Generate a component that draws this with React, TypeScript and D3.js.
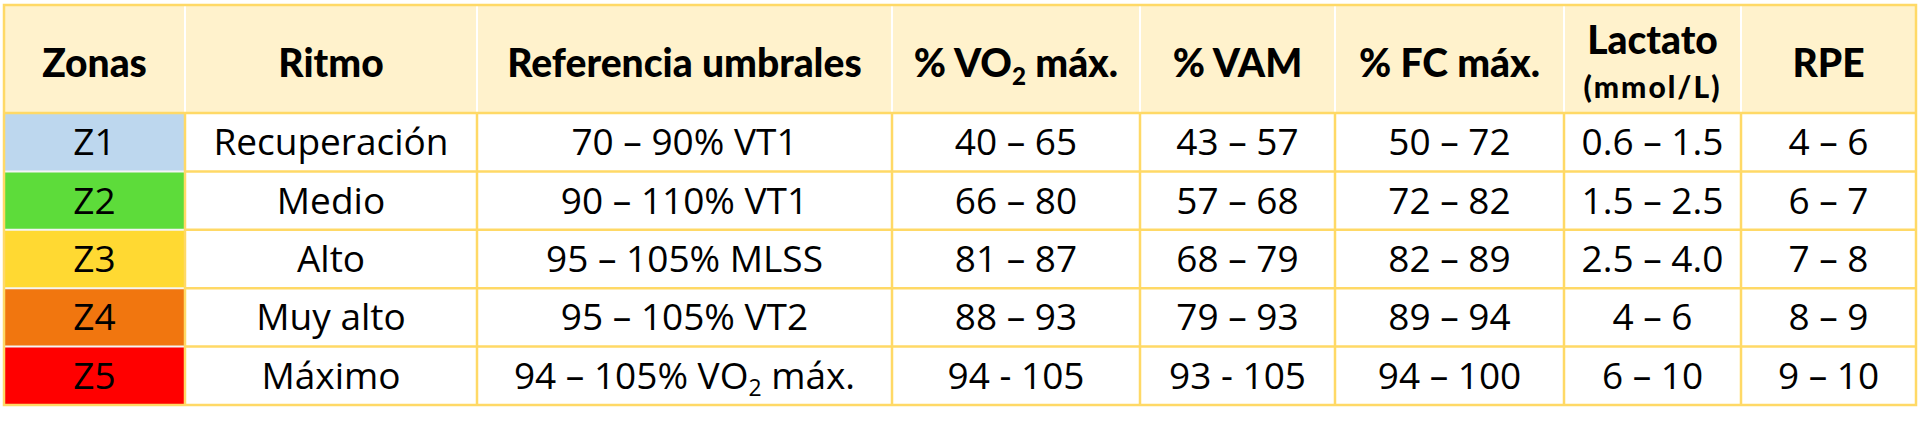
import { useEffect, useRef } from "react";
import * as d3 from "d3";

// table content
const headers = ["Zonas", "Ritmo", "Referencia umbrales", "% VO2 máx.", "% VAM", "% FC máx.", "Lactato", "RPE"];
const zones = ["Z1", "Z2", "Z3", "Z4", "Z5"];
const ritmo = ["Recuperación", "Medio", "Alto", "Muy alto", "Máximo"];
const umbrales = ["70 – 90% VT1", "90 – 110% VT1", "95 – 105% MLSS", "95 – 105% VT2", "94 – 105% VO2 máx."];
const vo2 = ["40 – 65", "66 – 80", "81 – 87", "88 – 93", "94 - 105"];
const vam = ["43 – 57", "57 – 68", "68 – 79", "79 – 93", "93 - 105"];
const fc = ["50 – 72", "72 – 82", "82 – 89", "89 – 94", "94 – 100"];
const lactato = ["0.6 – 1.5", "1.5 – 2.5", "2.5 – 4.0", "4 – 6", "6 – 10"];
const rpe = ["4 – 6", "6 – 7", "7 – 8", "8 – 9", "9 – 10"];
const lactatoUnit = "(mmol/L)";
const zoneColors = ["#bdd7ee", "#5ddc3a", "#ffd932", "#f1760f", "#ff0000"];

const W = 1920;
const H = 425;
const colWidths = [181, 292, 415, 248, 195, 229, 177, 175];
const left = 4;
const top = 5;
const headerH = 108;
const bottom = 405;
const border = "#ffd966";
const headBg = "#fff2cc";

// writes a string into a text node, putting the "2" of VO2 as subscript
function writeText(sel: d3.Selection<SVGTextElement, unknown, null, undefined>, s: string, size: number) {
    const parts = s.split("VO2");
    parts.forEach((p, i) => {
        if (i > 0) {
            sel.append("tspan").text("VO");
            sel.append("tspan").text("2").attr("font-size", size * 0.62).attr("dy", size * 0.2);
            sel.append("tspan").text(p).attr("dy", -size * 0.2);
        } else if (p) {
            sel.append("tspan").text(p);
        }
    });
}

export default function App() {
    const svgRef = useRef<SVGSVGElement>(null);

    useEffect(() => {
        const svg = d3.select(svgRef.current);
        svg.selectAll("*").remove();

        const edges = [left];
        colWidths.forEach(w => edges.push(edges[edges.length - 1] + w));
        const right = edges[edges.length - 1];

        const y = d3.scaleBand<string>().domain(zones).range([top + headerH, bottom]);
        const columns = [zones, ritmo, umbrales, vo2, vam, fc, lactato, rpe];

        // header
        svg.append("rect").attr("x", left).attr("y", top).attr("width", right - left).attr("height", headerH)
            .attr("fill", headBg);
        svg.append("rect").attr("x", left).attr("y", top + headerH).attr("width", right - left)
            .attr("height", bottom - top - headerH).attr("fill", "#fff");

        // zone colour cells
        svg.selectAll("rect.zone").data(zones).join("rect")
            .attr("class", "zone")
            .attr("x", left)
            .attr("y", d => y(d)!)
            .attr("width", colWidths[0])
            .attr("height", y.bandwidth())
            .attr("fill", (_, i) => zoneColors[i]);

        // white separators between zone cells
        zones.slice(1).forEach(z => {
            svg.append("line").attr("x1", left).attr("x2", edges[1]).attr("y1", y(z)!).attr("y2", y(z)!)
                .attr("stroke", "#f4f4f4").attr("stroke-width", 2);
        });

        // body grid lines
        zones.slice(1).forEach(z => {
            svg.append("line").attr("x1", edges[1]).attr("x2", right).attr("y1", y(z)!).attr("y2", y(z)!)
                .attr("stroke", border).attr("stroke-width", 2.5);
        });
        edges.slice(1, -1).forEach(x => {
            svg.append("line").attr("x1", x).attr("x2", x).attr("y1", top).attr("y2", top + headerH)
                .attr("stroke", "#fff").attr("stroke-width", 2);
            svg.append("line").attr("x1", x).attr("x2", x).attr("y1", top + headerH).attr("y2", bottom)
                .attr("stroke", border).attr("stroke-width", 2.5);
        });
        svg.append("line").attr("x1", left).attr("x2", right).attr("y1", top + headerH).attr("y2", top + headerH)
            .attr("stroke", border).attr("stroke-width", 2.5);
        svg.append("rect").attr("x", left).attr("y", top).attr("width", right - left).attr("height", bottom - top)
            .attr("fill", "none").attr("stroke", border).attr("stroke-width", 2.5);

        // header text
        const hSize = 39;
        headers.forEach((h, i) => {
            const cx = (edges[i] + edges[i + 1]) / 2;
            const isLact = h === "Lactato";
            const t = svg.append("text")
                .attr("x", cx)
                .attr("y", isLact ? 54 : 77)
                .attr("text-anchor", "middle")
                .attr("font-family", "Lato, sans-serif")
                .attr("font-weight", 900)
                .attr("font-size", hSize)
                .attr("fill", "#000");
            writeText(t, h, hSize);
            if (isLact) {
                svg.append("text")
                    .attr("x", cx)
                    .attr("y", 98)
                    .attr("text-anchor", "middle")
                    .attr("font-family", "Lato, sans-serif")
                    .attr("font-weight", 900)
                    .attr("font-size", 30)
                    .attr("letter-spacing", 2)
                    .text(lactatoUnit);
            }
        });

        // body text
        const bSize = 37;
        columns.forEach((col, c) => {
            const cx = (edges[c] + edges[c + 1]) / 2;
            col.forEach((v, r) => {
                const t = svg.append("text")
                    .attr("x", cx)
                    .attr("y", y(zones[r])! + y.bandwidth() / 2 + bSize * 0.35)
                    .attr("text-anchor", "middle")
                    .attr("font-family", "'Open Sans', sans-serif")
                    .attr("font-size", bSize)
                    .attr("fill", "#000");
                writeText(t, v, bSize);
            });
        });
    }, []);

    return (
        <svg
            ref={svgRef}
            width={W}
            height={H}
            viewBox={`0 0 ${W} ${H}`}
            style={{ position: "absolute", left: 0, top: 0, background: "#fff" }}
        />
    );
}
